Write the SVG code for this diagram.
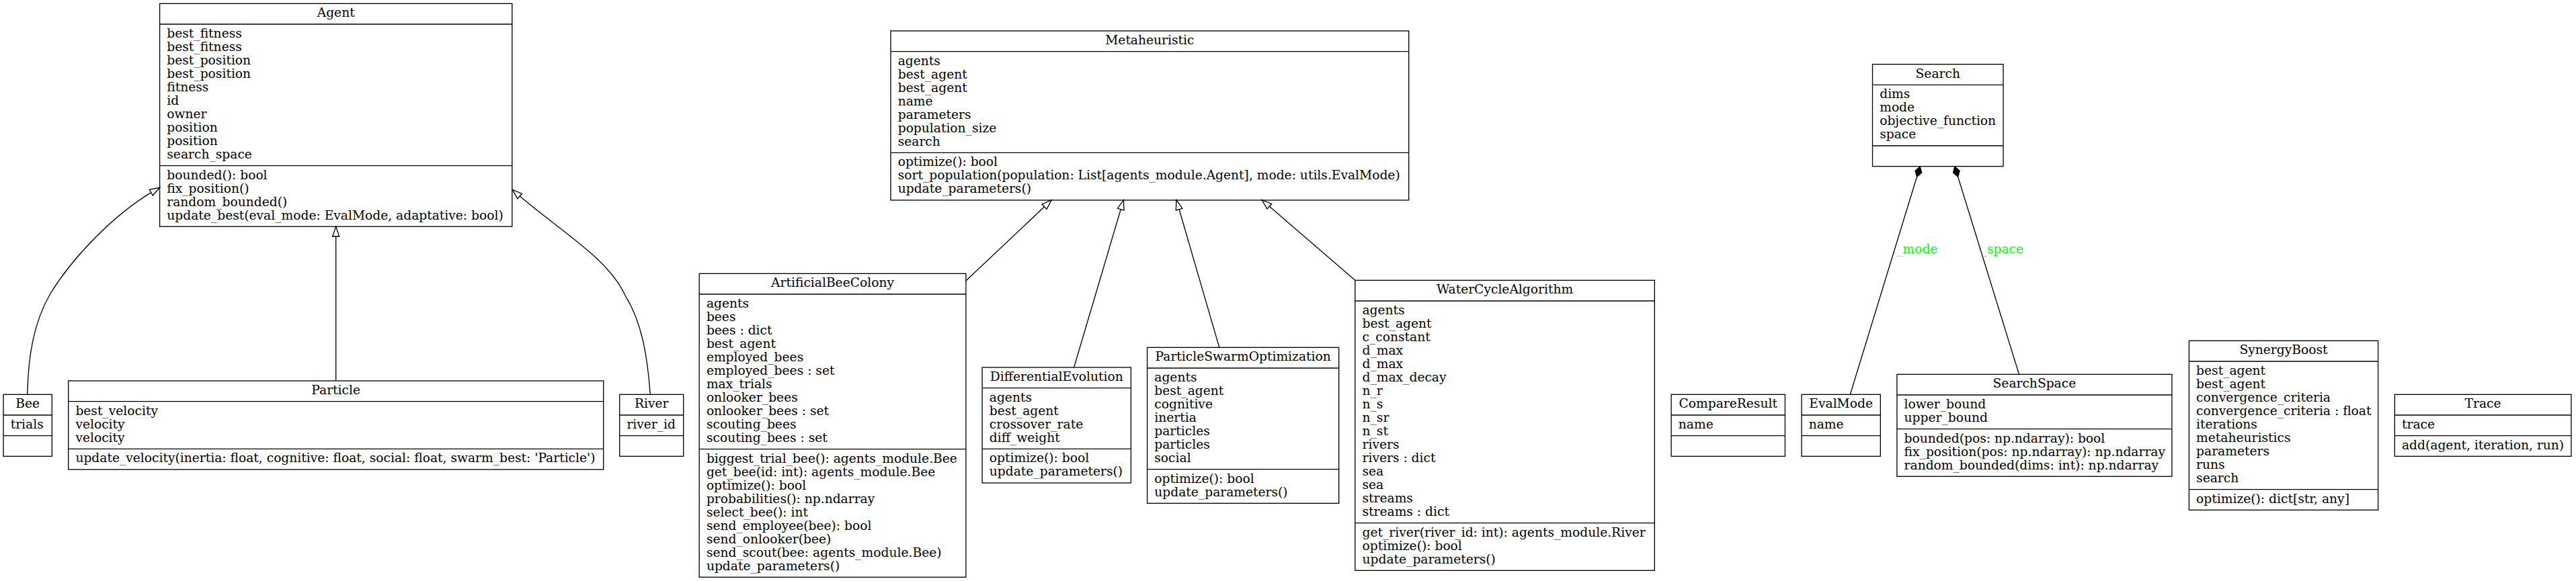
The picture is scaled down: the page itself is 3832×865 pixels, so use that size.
<svg xmlns="http://www.w3.org/2000/svg" width="3832" height="865" viewBox="0 0 3832 865">
<style>
.box{fill:none;stroke:#000;stroke-width:1.33}
.t{font-family:"DejaVu Serif","Liberation Serif",serif;font-size:18.67px;fill:#000}
.c{text-anchor:middle}
.e{fill:none;stroke:#000;stroke-width:1.33}
.ah{fill:#fff;stroke:#000;stroke-width:1.33}
.dm{fill:#000;stroke:#000;stroke-width:1.33}
.lbl{font-family:"DejaVu Serif","Liberation Serif",serif;font-size:18.67px;fill:#00ff00;text-anchor:middle}
</style>
<rect x="0" y="0" width="3832" height="865" fill="#fff"/>

<g id="connectors">
  <!-- Bee -> Agent -->
  <path class="e" d="M40.7,587.3 C42,530 50,480 75,437 C110,380 170,320 224.8,286.6"/>
  <polygon class="ah" points="237.6,279.3 227.3,291 222.3,282.3"/>
  <!-- Particle -> Agent -->
  <path class="e" d="M499.7,567 V352"/>
  <polygon class="ah" points="499.7,337.3 504.7,352 494.7,352"/>
  <!-- River -> Agent -->
  <path class="e" d="M967.3,587.3 C963,530 955,480 930,440 C905,385 835,345 773.2,292.1"/>
  <polygon class="ah" points="762.3,282.3 776.5,288.4 769.8,295.8"/>
  <!-- ABC -> Metaheuristic -->
  <path class="e" d="M1436.9,418 L1553.6,307.8"/>
  <polygon class="ah" points="1564.3,297.7 1557,311.4 1550.2,304.2"/>
  <!-- DE -> Metaheuristic -->
  <path class="e" d="M1597.6,547 L1667.2,311.8"/>
  <polygon class="ah" points="1671.4,297.7 1672,313.2 1662.4,310.4"/>
  <!-- PSO -> Metaheuristic -->
  <path class="e" d="M1813.8,517.3 L1754.1,311.8"/>
  <polygon class="ah" points="1750,297.7 1758.9,310.4 1749.3,313.2"/>
  <!-- WCA -> Metaheuristic -->
  <path class="e" d="M2015.8,417.3 L1888.3,307.3"/>
  <polygon class="ah" points="1877.1,297.7 1891.6,303.5 1885,311.1"/>
  <!-- EvalMode -> Search (_mode) -->
  <path class="e" d="M2752.3,587.3 L2851.5,263.3"/>
  <polygon class="dm" points="2856.2,248 2858.7,257.1 2851.5,263.3 2849.1,254.2"/>
  <text class="lbl" x="2851.8" y="377.3">_mode</text>
  <!-- SearchSpace -> Search (_space) -->
  <path class="e" d="M3003.5,557.3 L2912.6,263.3"/>
  <polygon class="dm" points="2907.9,248 2915.1,254.2 2912.6,263.3 2905.5,257.1"/>
  <text class="lbl" x="2978.4" y="377.3">_space</text>
</g>

<g id="Agent">
  <rect class="box" x="237.6" y="5.33" width="524.2" height="332"/>
  <path class="box" d="M237.6,36 H761.8 M237.6,246.67 H761.8"/>
  <text class="t c" x="499.7" y="25.33">Agent</text>
  <text class="t" x="248.3" y="56"><tspan x="248.3" y="56">best_fitness</tspan><tspan x="248.3" dy="20">best_fitness</tspan><tspan x="248.3" dy="20">best_position</tspan><tspan x="248.3" dy="20">best_position</tspan><tspan x="248.3" dy="20">fitness</tspan><tspan x="248.3" dy="20">id</tspan><tspan x="248.3" dy="20">owner</tspan><tspan x="248.3" dy="20">position</tspan><tspan x="248.3" dy="20">position</tspan><tspan x="248.3" dy="20">search_space</tspan></text>
  <text class="t" x="248.3" y="266.67"><tspan x="248.3" y="266.67">bounded(): bool</tspan><tspan x="248.3" dy="20">fix_position()</tspan><tspan x="248.3" dy="20">random_bounded()</tspan><tspan x="248.3" dy="20">update_best(eval_mode: EvalMode, adaptative: bool)</tspan></text>
</g>

<g id="Bee">
  <rect class="box" x="5" y="587.33" width="72.3" height="92"/>
  <path class="box" d="M5,618 H77.3 M5,648.67 H77.3"/>
  <text class="t c" x="41.15" y="607.33">Bee</text>
  <text class="t" x="15.7" y="638">trials</text>
</g>

<g id="Particle">
  <rect class="box" x="101.7" y="567" width="796" height="132"/>
  <path class="box" d="M101.7,597.67 H897.7 M101.7,668.33 H897.7"/>
  <text class="t c" x="499.7" y="587">Particle</text>
  <text class="t" x="112.4" y="617.67"><tspan x="112.4" y="617.67">best_velocity</tspan><tspan x="112.4" dy="20">velocity</tspan><tspan x="112.4" dy="20">velocity</tspan></text>
  <text class="t" x="112.4" y="688.33">update_velocity(inertia: float, cognitive: float, social: float, swarm_best: 'Particle')</text>
</g>

<g id="River">
  <rect class="box" x="921.7" y="587.33" width="95" height="92"/>
  <path class="box" d="M921.7,618 H1016.7 M921.7,648.67 H1016.7"/>
  <text class="t c" x="969.2" y="607.33">River</text>
  <text class="t" x="932.4" y="638">river_id</text>
</g>

<g id="Metaheuristic">
  <rect class="box" x="1325" y="46" width="770.7" height="252"/>
  <path class="box" d="M1325,76.67 H2095.7 M1325,227.33 H2095.7"/>
  <text class="t c" x="1710.35" y="66">Metaheuristic</text>
  <text class="t" x="1335.7" y="96.67"><tspan x="1335.7" y="96.67">agents</tspan><tspan x="1335.7" dy="20">best_agent</tspan><tspan x="1335.7" dy="20">best_agent</tspan><tspan x="1335.7" dy="20">name</tspan><tspan x="1335.7" dy="20">parameters</tspan><tspan x="1335.7" dy="20">population_size</tspan><tspan x="1335.7" dy="20">search</tspan></text>
  <text class="t" x="1335.7" y="247.33"><tspan x="1335.7" y="247.33">optimize(): bool</tspan><tspan x="1335.7" dy="20">sort_population(population: List[agents_module.Agent], mode: utils.EvalMode)</tspan><tspan x="1335.7" dy="20">update_parameters()</tspan></text>
</g>

<g id="ArtificialBeeColony">
  <rect class="box" x="1040.2" y="407.33" width="396.7" height="452"/>
  <path class="box" d="M1040.2,438 H1436.9 M1040.2,668.67 H1436.9"/>
  <text class="t c" x="1238.55" y="427.33">ArtificialBeeColony</text>
  <text class="t" x="1050.9" y="458"><tspan x="1050.9" y="458">agents</tspan><tspan x="1050.9" dy="20">bees</tspan><tspan x="1050.9" dy="20">bees : dict</tspan><tspan x="1050.9" dy="20">best_agent</tspan><tspan x="1050.9" dy="20">employed_bees</tspan><tspan x="1050.9" dy="20">employed_bees : set</tspan><tspan x="1050.9" dy="20">max_trials</tspan><tspan x="1050.9" dy="20">onlooker_bees</tspan><tspan x="1050.9" dy="20">onlooker_bees : set</tspan><tspan x="1050.9" dy="20">scouting_bees</tspan><tspan x="1050.9" dy="20">scouting_bees : set</tspan></text>
  <text class="t" x="1050.9" y="688.67"><tspan x="1050.9" y="688.67">biggest_trial_bee(): agents_module.Bee</tspan><tspan x="1050.9" dy="20">get_bee(id: int): agents_module.Bee</tspan><tspan x="1050.9" dy="20">optimize(): bool</tspan><tspan x="1050.9" dy="20">probabilities(): np.ndarray</tspan><tspan x="1050.9" dy="20">select_bee(): int</tspan><tspan x="1050.9" dy="20">send_employee(bee): bool</tspan><tspan x="1050.9" dy="20">send_onlooker(bee)</tspan><tspan x="1050.9" dy="20">send_scout(bee: agents_module.Bee)</tspan><tspan x="1050.9" dy="20">update_parameters()</tspan></text>
</g>

<g id="DifferentialEvolution">
  <rect class="box" x="1461.1" y="547" width="221.3" height="172"/>
  <path class="box" d="M1461.1,577.67 H1682.4 M1461.1,668.33 H1682.4"/>
  <text class="t c" x="1571.75" y="567">DifferentialEvolution</text>
  <text class="t" x="1471.8" y="597.67"><tspan x="1471.8" y="597.67">agents</tspan><tspan x="1471.8" dy="20">best_agent</tspan><tspan x="1471.8" dy="20">crossover_rate</tspan><tspan x="1471.8" dy="20">diff_weight</tspan></text>
  <text class="t" x="1471.8" y="688.33"><tspan x="1471.8" y="688.33">optimize(): bool</tspan><tspan x="1471.8" dy="20">update_parameters()</tspan></text>
</g>

<g id="ParticleSwarmOptimization">
  <rect class="box" x="1706.6" y="517.33" width="285.1" height="232"/>
  <path class="box" d="M1706.6,548 H1991.7 M1706.6,698.67 H1991.7"/>
  <text class="t c" x="1849.15" y="537.33">ParticleSwarmOptimization</text>
  <text class="t" x="1717.3" y="568"><tspan x="1717.3" y="568">agents</tspan><tspan x="1717.3" dy="20">best_agent</tspan><tspan x="1717.3" dy="20">cognitive</tspan><tspan x="1717.3" dy="20">inertia</tspan><tspan x="1717.3" dy="20">particles</tspan><tspan x="1717.3" dy="20">particles</tspan><tspan x="1717.3" dy="20">social</tspan></text>
  <text class="t" x="1717.3" y="718.67"><tspan x="1717.3" y="718.67">optimize(): bool</tspan><tspan x="1717.3" dy="20">update_parameters()</tspan></text>
</g>

<g id="WaterCycleAlgorithm">
  <rect class="box" x="2015.8" y="417.33" width="445.5" height="432"/>
  <path class="box" d="M2015.8,448 H2461.3 M2015.8,778.67 H2461.3"/>
  <text class="t c" x="2238.55" y="437.33">WaterCycleAlgorithm</text>
  <text class="t" x="2026.5" y="468"><tspan x="2026.5" y="468">agents</tspan><tspan x="2026.5" dy="20">best_agent</tspan><tspan x="2026.5" dy="20">c_constant</tspan><tspan x="2026.5" dy="20">d_max</tspan><tspan x="2026.5" dy="20">d_max</tspan><tspan x="2026.5" dy="20">d_max_decay</tspan><tspan x="2026.5" dy="20">n_r</tspan><tspan x="2026.5" dy="20">n_s</tspan><tspan x="2026.5" dy="20">n_sr</tspan><tspan x="2026.5" dy="20">n_st</tspan><tspan x="2026.5" dy="20">rivers</tspan><tspan x="2026.5" dy="20">rivers : dict</tspan><tspan x="2026.5" dy="20">sea</tspan><tspan x="2026.5" dy="20">sea</tspan><tspan x="2026.5" dy="20">streams</tspan><tspan x="2026.5" dy="20">streams : dict</tspan></text>
  <text class="t" x="2026.5" y="798.67"><tspan x="2026.5" y="798.67">get_river(river_id: int): agents_module.River</tspan><tspan x="2026.5" dy="20">optimize(): bool</tspan><tspan x="2026.5" dy="20">update_parameters()</tspan></text>
</g>

<g id="CompareResult">
  <rect class="box" x="2486.1" y="587.33" width="169.3" height="92"/>
  <path class="box" d="M2486.1,618 H2655.4 M2486.1,648.67 H2655.4"/>
  <text class="t c" x="2570.75" y="607.33">CompareResult</text>
  <text class="t" x="2496.8" y="638">name</text>
</g>

<g id="EvalMode">
  <rect class="box" x="2680" y="587.33" width="117.3" height="92"/>
  <path class="box" d="M2680,618 H2797.3 M2680,648.67 H2797.3"/>
  <text class="t c" x="2738.65" y="607.33">EvalMode</text>
  <text class="t" x="2690.7" y="638">name</text>
</g>

<g id="Search">
  <rect class="box" x="2785.5" y="95.67" width="194.5" height="152"/>
  <path class="box" d="M2785.5,126.33 H2980 M2785.5,217 H2980"/>
  <text class="t c" x="2882.75" y="115.67">Search</text>
  <text class="t" x="2796.2" y="146.33"><tspan x="2796.2" y="146.33">dims</tspan><tspan x="2796.2" dy="20">mode</tspan><tspan x="2796.2" dy="20">objective_function</tspan><tspan x="2796.2" dy="20">space</tspan></text>
</g>

<g id="SearchSpace">
  <rect class="box" x="2821.9" y="557.33" width="409" height="152"/>
  <path class="box" d="M2821.9,588 H3230.9 M2821.9,638.67 H3230.9"/>
  <text class="t c" x="3026.4" y="577.33">SearchSpace</text>
  <text class="t" x="2832.6" y="608"><tspan x="2832.6" y="608">lower_bound</tspan><tspan x="2832.6" dy="20">upper_bound</tspan></text>
  <text class="t" x="2832.6" y="658.67"><tspan x="2832.6" y="658.67">bounded(pos: np.ndarray): bool</tspan><tspan x="2832.6" dy="20">fix_position(pos: np.ndarray): np.ndarray</tspan><tspan x="2832.6" dy="20">random_bounded(dims: int): np.ndarray</tspan></text>
</g>

<g id="SynergyBoost">
  <rect class="box" x="3256.4" y="507.33" width="281.2" height="252"/>
  <path class="box" d="M3256.4,538 H3537.6 M3256.4,728.67 H3537.6"/>
  <text class="t c" x="3397" y="527.33">SynergyBoost</text>
  <text class="t" x="3267.1" y="558"><tspan x="3267.1" y="558">best_agent</tspan><tspan x="3267.1" dy="20">best_agent</tspan><tspan x="3267.1" dy="20">convergence_criteria</tspan><tspan x="3267.1" dy="20">convergence_criteria : float</tspan><tspan x="3267.1" dy="20">iterations</tspan><tspan x="3267.1" dy="20">metaheuristics</tspan><tspan x="3267.1" dy="20">parameters</tspan><tspan x="3267.1" dy="20">runs</tspan><tspan x="3267.1" dy="20">search</tspan></text>
  <text class="t" x="3267.1" y="748.67">optimize(): dict[str, any]</text>
</g>

<g id="Trace">
  <rect class="box" x="3562.3" y="587.33" width="262.6" height="92"/>
  <path class="box" d="M3562.3,618 H3824.9 M3562.3,648.67 H3824.9"/>
  <text class="t c" x="3693.6" y="607.33">Trace</text>
  <text class="t" x="3573" y="638">trace</text>
  <text class="t" x="3573" y="668.67">add(agent, iteration, run)</text>
</g>
</svg>
